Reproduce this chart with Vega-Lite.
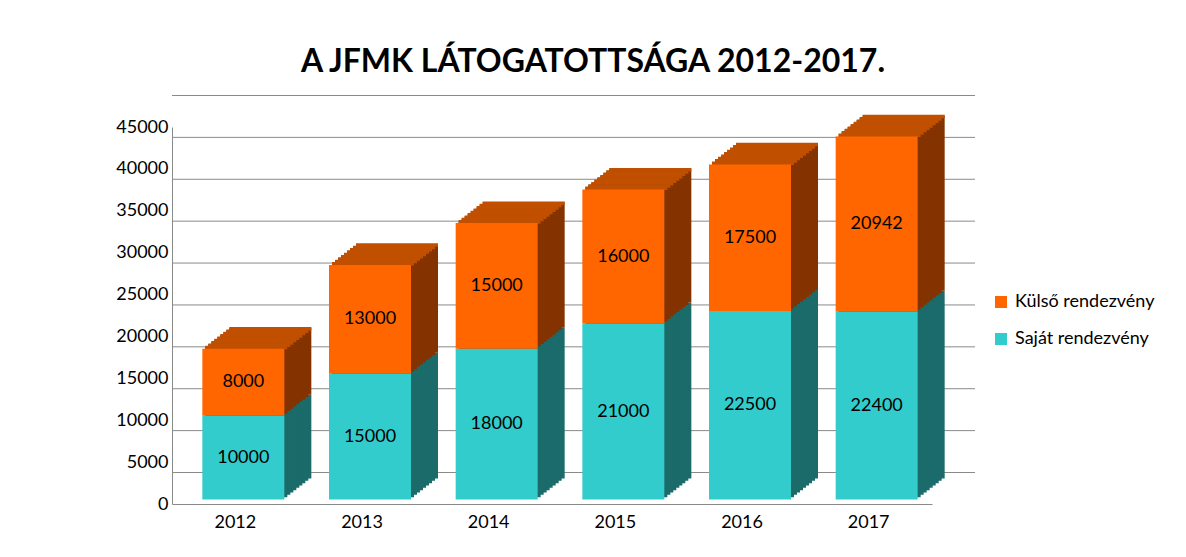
{
  "$schema": "https://vega.github.io/schema/vega-lite/v6.json",
  "width": 760,
  "height": 377,
  "autosize": {"type": "none"},
  "padding": {"left": 172, "top": 127, "right": 254, "bottom": 53},
  "background": "white",
  "title": {
    "text": "A JFMK LÁTOGATOTTSÁGA 2012-2017.",
    "font": "Lato",
    "fontSize": 32,
    "fontWeight": "bold",
    "color": "#000000",
    "anchor": "middle",
    "frame": "group",
    "dx": 41,
    "offset": 16
  },
  "config": {
    "view": {"stroke": null},
    "axisY": {"domainColor": "#8a8a8a", "ticks": false, "grid": false, "labelFont": "Lato", "labelFontSize": 18, "labelColor": "#000000", "labelPadding": 4, "values": [0, 5000, 10000, 15000, 20000, 25000, 30000, 35000, 40000, 45000], "format": "d"},
    "axisX": {"domainColor": "#8a8a8a", "ticks": false, "grid": false, "labelFont": "Lato", "labelFontSize": 18, "labelColor": "#000000", "labelPadding": 9, "labelAngle": 0}
  },
  "datasets": {
    "visits": [
      {"year": "2012", "series": "Saját rendezvény", "value": 10000},
      {"year": "2012", "series": "Külső rendezvény", "value": 8000},
      {"year": "2013", "series": "Saját rendezvény", "value": 15000},
      {"year": "2013", "series": "Külső rendezvény", "value": 13000},
      {"year": "2014", "series": "Saját rendezvény", "value": 18000},
      {"year": "2014", "series": "Külső rendezvény", "value": 15000},
      {"year": "2015", "series": "Saját rendezvény", "value": 21000},
      {"year": "2015", "series": "Külső rendezvény", "value": 16000},
      {"year": "2016", "series": "Saját rendezvény", "value": 22500},
      {"year": "2016", "series": "Külső rendezvény", "value": 17500},
      {"year": "2017", "series": "Saját rendezvény", "value": 22400},
      {"year": "2017", "series": "Külső rendezvény", "value": 20942}
    ],
    "grid": [
      {"v": 0}, {"v": 5000}, {"v": 10000}, {"v": 15000}, {"v": 20000},
      {"v": 25000}, {"v": 30000}, {"v": 35000}, {"v": 40000}, {"v": 45000}
    ]
  },
  "layer": [
    {
      "data": {"name": "grid"},
      "mark": {"type": "rule", "color": "#8a8a8a", "strokeWidth": 1, "xOffset": 43, "x2Offset": 43, "yOffset": -31.5, "y2Offset": -31.5},
      "encoding": {
        "y": {"field": "v", "type": "quantitative", "scale": {"domain": [0, 45000], "nice": false}, "axis": {"title": null}}
      }
    },
    {
      "data": {"name": "visits"},
      "transform": [
        {"stack": "value", "groupby": ["year"], "sort": [{"field": "series", "order": "descending"}], "as": ["v0", "v1"]}
      ],
      "encoding": {
        "x": {"field": "year", "type": "nominal", "axis": {"title": null}},
        "y": {"field": "v1", "type": "quantitative", "axis": {"title": null}}
      },
      "layer": [
        {"mark": {"type": "bar", "size": 82, "xOffset": 35, "yOffset": -25.5, "y2Offset": -25.5}, "encoding": {"y2": {"field": "v0"}, "color": {"condition": {"test": "datum.series === 'Külső rendezvény'", "value": "#843300"}, "value": "#1B6B6B"}}},
        {"transform": [{"filter": "datum.series === 'Külső rendezvény'"}], "mark": {"type": "bar", "size": 82, "color": "#C04F00", "xOffset": 35, "yOffset": -26.1, "y2Offset": -22.57}, "encoding": {"y2": {"field": "v1"}}},
        {"mark": {"type": "bar", "size": 82, "xOffset": 32, "yOffset": -23.17, "y2Offset": -23.17}, "encoding": {"y2": {"field": "v0"}, "color": {"condition": {"test": "datum.series === 'Külső rendezvény'", "value": "#843300"}, "value": "#1B6B6B"}}},
        {"transform": [{"filter": "datum.series === 'Külső rendezvény'"}], "mark": {"type": "bar", "size": 82, "color": "#C04F00", "xOffset": 32, "yOffset": -23.77, "y2Offset": -20.23}, "encoding": {"y2": {"field": "v1"}}},
        {"mark": {"type": "bar", "size": 82, "xOffset": 29, "yOffset": -20.83, "y2Offset": -20.83}, "encoding": {"y2": {"field": "v0"}, "color": {"condition": {"test": "datum.series === 'Külső rendezvény'", "value": "#843300"}, "value": "#1B6B6B"}}},
        {"transform": [{"filter": "datum.series === 'Külső rendezvény'"}], "mark": {"type": "bar", "size": 82, "color": "#C04F00", "xOffset": 29, "yOffset": -21.43, "y2Offset": -17.9}, "encoding": {"y2": {"field": "v1"}}},
        {"mark": {"type": "bar", "size": 82, "xOffset": 26, "yOffset": -18.5, "y2Offset": -18.5}, "encoding": {"y2": {"field": "v0"}, "color": {"condition": {"test": "datum.series === 'Külső rendezvény'", "value": "#843300"}, "value": "#1B6B6B"}}},
        {"transform": [{"filter": "datum.series === 'Külső rendezvény'"}], "mark": {"type": "bar", "size": 82, "color": "#C04F00", "xOffset": 26, "yOffset": -19.1, "y2Offset": -15.57}, "encoding": {"y2": {"field": "v1"}}},
        {"mark": {"type": "bar", "size": 82, "xOffset": 23, "yOffset": -16.17, "y2Offset": -16.17}, "encoding": {"y2": {"field": "v0"}, "color": {"condition": {"test": "datum.series === 'Külső rendezvény'", "value": "#843300"}, "value": "#1B6B6B"}}},
        {"transform": [{"filter": "datum.series === 'Külső rendezvény'"}], "mark": {"type": "bar", "size": 82, "color": "#C04F00", "xOffset": 23, "yOffset": -16.77, "y2Offset": -13.23}, "encoding": {"y2": {"field": "v1"}}},
        {"mark": {"type": "bar", "size": 82, "xOffset": 20, "yOffset": -13.83, "y2Offset": -13.83}, "encoding": {"y2": {"field": "v0"}, "color": {"condition": {"test": "datum.series === 'Külső rendezvény'", "value": "#843300"}, "value": "#1B6B6B"}}},
        {"transform": [{"filter": "datum.series === 'Külső rendezvény'"}], "mark": {"type": "bar", "size": 82, "color": "#C04F00", "xOffset": 20, "yOffset": -14.43, "y2Offset": -10.9}, "encoding": {"y2": {"field": "v1"}}},
        {"mark": {"type": "bar", "size": 82, "xOffset": 17, "yOffset": -11.5, "y2Offset": -11.5}, "encoding": {"y2": {"field": "v0"}, "color": {"condition": {"test": "datum.series === 'Külső rendezvény'", "value": "#843300"}, "value": "#1B6B6B"}}},
        {"transform": [{"filter": "datum.series === 'Külső rendezvény'"}], "mark": {"type": "bar", "size": 82, "color": "#C04F00", "xOffset": 17, "yOffset": -12.1, "y2Offset": -8.57}, "encoding": {"y2": {"field": "v1"}}},
        {"mark": {"type": "bar", "size": 82, "xOffset": 14, "yOffset": -9.17, "y2Offset": -9.17}, "encoding": {"y2": {"field": "v0"}, "color": {"condition": {"test": "datum.series === 'Külső rendezvény'", "value": "#843300"}, "value": "#1B6B6B"}}},
        {"transform": [{"filter": "datum.series === 'Külső rendezvény'"}], "mark": {"type": "bar", "size": 82, "color": "#C04F00", "xOffset": 14, "yOffset": -9.77, "y2Offset": -6.23}, "encoding": {"y2": {"field": "v1"}}},
        {"mark": {"type": "bar", "size": 82, "xOffset": 11, "yOffset": -6.83, "y2Offset": -6.83}, "encoding": {"y2": {"field": "v0"}, "color": {"condition": {"test": "datum.series === 'Külső rendezvény'", "value": "#843300"}, "value": "#1B6B6B"}}},
        {"transform": [{"filter": "datum.series === 'Külső rendezvény'"}], "mark": {"type": "bar", "size": 82, "color": "#C04F00", "xOffset": 11, "yOffset": -7.43, "y2Offset": -3.9}, "encoding": {"y2": {"field": "v1"}}},
        {
          "mark": {"type": "bar", "size": 82, "xOffset": 8, "yOffset": -4.5, "y2Offset": -4.5},
          "encoding": {
            "y2": {"field": "v0"},
            "color": {
              "field": "series",
              "type": "nominal",
              "scale": {"domain": ["Külső rendezvény", "Saját rendezvény"], "range": ["#FF6600", "#33CCCC"]},
              "legend": {"orient": "none", "legendX": 820, "legendY": 166, "title": null, "symbolType": "square", "symbolSize": 144, "symbolStrokeWidth": 0, "labelFont": "Lato", "labelFontSize": 18, "labelColor": "#000000", "labelOffset": 5, "rowPadding": 19, "padding": 0}
            }
          }
        },
        {
          "transform": [{"fold": ["v0", "v1"], "as": ["edge", "pos"]}],
          "mark": {"type": "text", "font": "Lato", "fontSize": 18, "color": "#000000", "dx": 8, "dy": -4.5, "align": "center", "baseline": "middle"},
          "encoding": {
            "y": {"aggregate": "mean", "field": "pos", "type": "quantitative", "axis": {"title": null}},
            "detail": {"field": "series", "type": "nominal"},
            "text": {"field": "value", "type": "quantitative", "format": "d"}
          }
        }
      ]
    }
  ]
}
